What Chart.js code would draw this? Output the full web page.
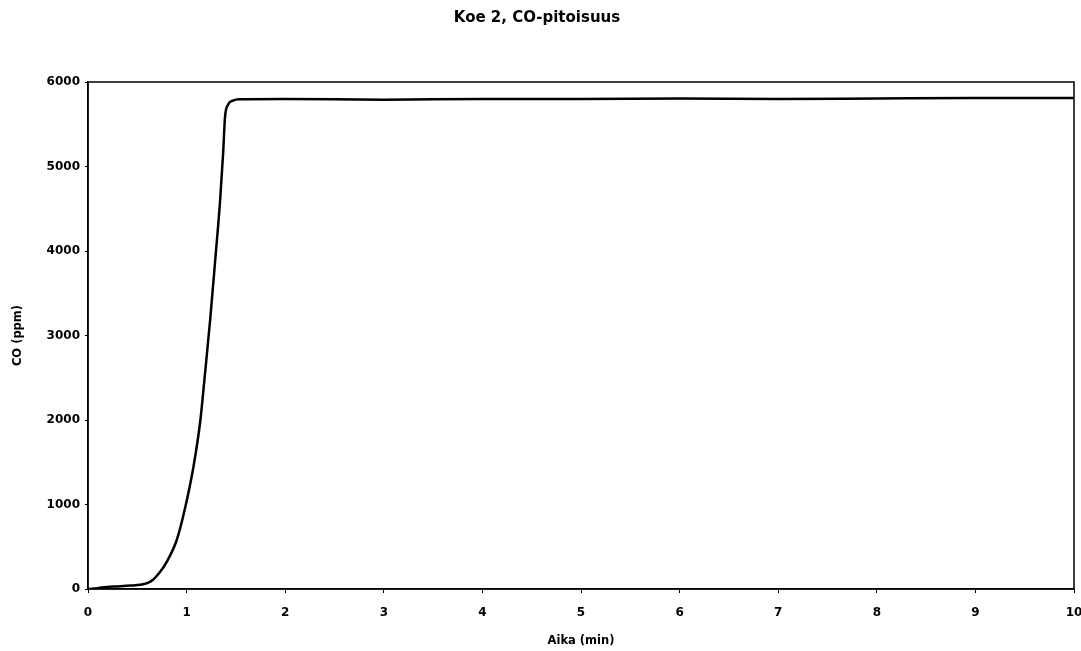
<!DOCTYPE html>
<html>
<head>
<meta charset="utf-8">
<script src="https://cdn.jsdelivr.net/npm/chart.js@4"></script>
<style>
  html, body { margin: 0; padding: 0; background: #fff; }
  #wrap { width: 1081px; height: 651px; }
</style>
</head>
<body>
<div id="wrap"><canvas id="myChart" width="1081" height="651"></canvas></div>
<script>
// time in minutes and CO concentration (ppm)
const aika = [0, 0.1, 0.19, 0.3, 0.43, 0.53, 0.6, 0.66, 0.73, 0.8, 0.9, 0.98, 1.07, 1.14, 1.18, 1.24, 1.29, 1.34, 1.37, 1.39, 1.42, 1.47, 1.54, 2, 3, 4, 5, 6, 7, 8, 9, 10];
const co = [0, 10, 25, 30, 40, 50, 70, 110, 200, 325, 580, 935, 1450, 2000, 2470, 3200, 3890, 4600, 5150, 5590, 5730, 5780, 5795, 5800, 5790, 5800, 5800, 5805, 5800, 5805, 5810, 5810];
const xTicks = [0, 1, 2, 3, 4, 5, 6, 7, 8, 9, 10];
const yTicks = [0, 1000, 2000, 3000, 4000, 5000, 6000];

const points = aika.map((t, i) => ({ x: t, y: co[i] }));

// frame round the plot area (top and right edges)
const frame = {
    id: 'frame',
    afterDraw(chart) {
        const { ctx, chartArea: a } = chart;
        ctx.save();
        ctx.strokeStyle = '#000';
        ctx.lineWidth = 1.5;
        ctx.strokeRect(a.left, a.top, a.right - a.left, a.bottom - a.top);
        ctx.restore();
    }
};

const font = { family: 'DejaVu Sans', weight: 'bold', size: 12 };

const ctx = document.getElementById('myChart').getContext('2d');
new Chart(ctx, {
    type: 'scatter',
    data: {
        datasets: [{
            data: points,
            showLine: true,
            borderColor: '#000',
            borderWidth: 2.5,
            pointRadius: 0,
            cubicInterpolationMode: 'monotone'
        }]
    },
    options: {
        responsive: false,
        animation: false,
        layout: { padding: { left: 0, right: 7, top: 0, bottom: 0 } },
        plugins: {
            legend: { display: false },
            tooltip: { enabled: false },
            title: {
                display: true,
                text: 'Koe 2, CO-pitoisuus',
                color: '#000',
                font: { family: 'DejaVu Sans', weight: 'bold', size: 15 },
                padding: { top: 9, bottom: 55 }
            }
        },
        scales: {
            x: {
                type: 'linear',
                min: 0,
                max: 10,
                afterBuildTicks: (s) => { s.ticks = xTicks.map(v => ({ value: v })); },
                afterFit: (s) => { s.height = 62; s.paddingRight = 0; s.paddingLeft = 0; },
                ticks: { color: '#000', font: font, padding: 13, callback: (v) => String(v) },
                grid: { drawOnChartArea: false, tickLength: 4, color: '#000' },
                border: { color: '#000', width: 1.5 },
                title: {
                    display: true,
                    text: 'Aika (min)',
                    color: '#000',
                    font: { family: 'DejaVu Sans', weight: 'bold', size: 11.5 },
                    padding: { bottom: 3 }
                }
            },
            y: {
                min: 0,
                max: 6000,
                afterBuildTicks: (s) => { s.ticks = yTicks.map(v => ({ value: v })); },
                afterFit: (s) => { s.width = 88; },
                ticks: { color: '#000', font: font, padding: 5, callback: (v) => String(v) },
                grid: { drawOnChartArea: false, tickLength: 3, color: '#000' },
                border: { color: '#000', width: 1.5 },
                title: {
                    display: true,
                    text: 'CO (ppm)',
                    color: '#000',
                    font: { family: 'DejaVu Sans', weight: 'bold', size: 11.5 },
                    padding: { top: 11 }
                }
            }
        }
    },
    plugins: [frame]
});
</script>
</body>
</html>
